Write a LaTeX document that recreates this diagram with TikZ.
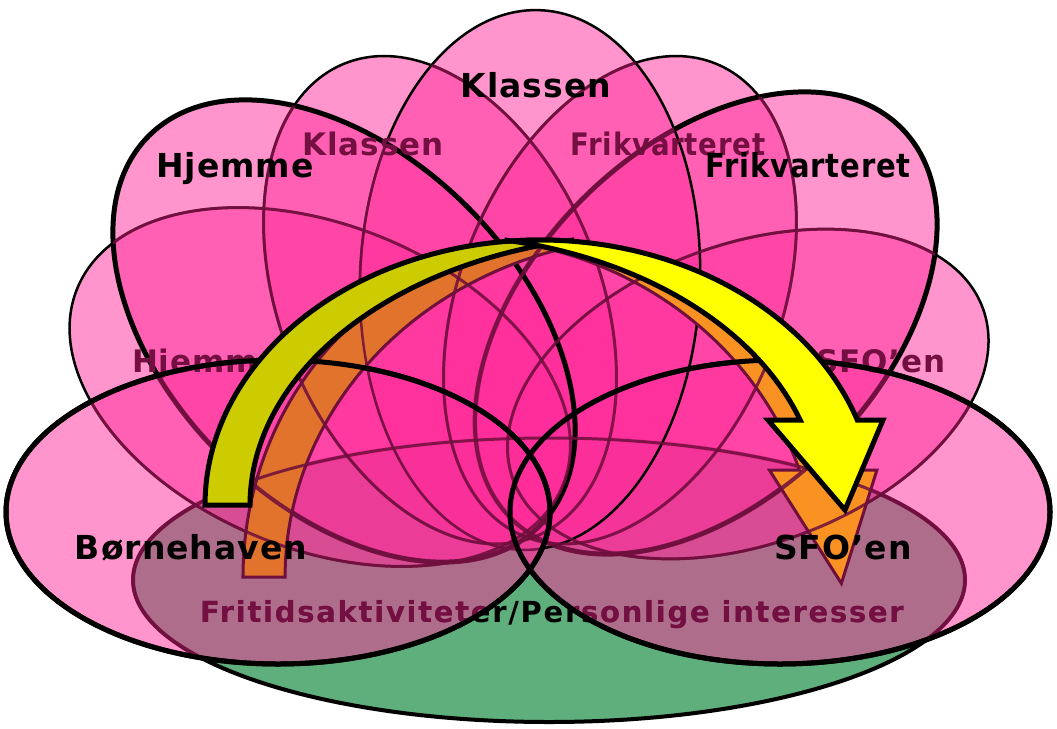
\documentclass[tikz,border=0pt]{standalone}
\usepackage{fontspec}
\setmainfont{DejaVu Sans}
\newfontfamily\lblfont[LetterSpace=3]{DejaVu Sans}
\newfontfamily\widefont[LetterSpace=6]{DejaVu Sans}
\definecolor{pk}{RGB}{255,45,155}
\definecolor{gr}{RGB}{95,175,125}
\definecolor{oliveY}{RGB}{204,204,0}
\definecolor{brightY}{RGB}{255,255,0}
\definecolor{orA}{RGB}{225,115,45}
\definecolor{orB}{RGB}{250,145,35}
\definecolor{maroonL}{RGB}{110,15,60}
\definecolor{backtxt}{RGB}{115,15,65}
\tikzset{
  backpetal/.style={fill=pk, fill opacity=0.5, draw=black, line width=2.5pt},
  frontpetal/.style={fill=pk, fill opacity=0.5, draw=black, line width=5pt},
  greenpetal/.style={fill=gr, draw=black, line width=4pt},
  backline/.style={draw=maroonL, draw opacity=0.85, line width=3pt},
  frontline/.style={draw=maroonL, draw opacity=0.85, line width=4pt},
  frontlbl/.style={anchor=base, inner sep=0pt, font=\lblfont\bfseries\fontsize{33}{36}\selectfont},
  backlbl/.style={anchor=base, inner sep=0pt, text=backtxt, font=\lblfont\bfseries\fontsize{31}{34}\selectfont},
  widelbl/.style={anchor=base, inner sep=0pt, font=\widefont\bfseries\fontsize{29}{32}\selectfont},
  yelback/.style={fill=oliveY, draw=black, line width=5pt, line join=miter},
  yelfront/.style={fill=brightY, draw=black, line width=5pt, line join=miter},
  orback/.style={fill=orA, draw=maroonL, line width=3pt, line join=miter},
  orfront/.style={fill=orB, draw=maroonL, line width=3pt, line join=miter}
}
% petal geometries
\newcommand\petHjemB[1]{\path[#1, shift={(320,387)}, rotate=-22] (0,0) ellipse [x radius=262pt, y radius=162pt];}
\newcommand\petKlasB[1]{\path[#1, shift={(440,300)}, rotate=-68] (0,0) ellipse [x radius=255pt, y radius=160pt];}
\newcommand\petFrikB[1]{\path[#1, shift={(620,300)}, rotate=68] (0,0) ellipse [x radius=255pt, y radius=160pt];}
\newcommand\petSfoB[1]{\path[#1, shift={(748,394)}, rotate=20] (0,0) ellipse [x radius=250pt, y radius=150pt];}
\newcommand\petFrikF[1]{\path[#1, shift={(706,323)}, rotate=45] (0,0) ellipse [x radius=276pt, y radius=175pt];}
\newcommand\petSfoF[1]{\path[#1] (780,512) ellipse [x radius=270pt, y radius=152pt];}
\newcommand\petKlasF[1]{\path[#1, shift={(530,280)}, rotate=-2] (0,0) ellipse [x radius=170pt, y radius=270pt];}
\newcommand\petHjemF[1]{\path[#1, shift={(344,331)}, rotate=-45] (0,0) ellipse [x radius=276pt, y radius=175pt];}
\newcommand\petBornF[1]{\path[#1] (278,512) ellipse [x radius=272pt, y radius=152pt];}
% arrow parts
\newcommand\backband[1]{\path[#1] plot[domain=180:84.86,samples=70] ({540+335*cos(\x)},{505-265*sin(\x)}) -- plot[domain=101.5:180,samples=70] ({650+400*cos(\x)},{505-270*sin(\x)}) -- cycle;}
\newcommand\frontband[1]{\path[#1] plot[domain=95.65:18.71,samples=70] ({540+335*cos(\x)},{505-265*sin(\x)}) -- (883,420) -- (845,510) -- (768,420) -- plot[domain=18.35:78.6,samples=70] ({430+390*cos(\x)},{505-270*sin(\x)}) -- cycle;}
\begin{document}
\begin{tikzpicture}[x=1pt,y=-1pt]
\useasboundingbox[fill=white] (0,0) rectangle (1057,728);

% green bottom ellipse and its label
\path[greenpetal] (549,580) ellipse [x radius=416pt, y radius=142pt];
\node[widelbl] (fri) at (552,622) {Fritidsaktiviteter/Personlige interesser};

% back petals
\petHjemB{backpetal}
\petKlasB{backpetal}
\petFrikB{backpetal}
\petSfoB{backpetal}

% front petals
\petFrikF{frontpetal}
\petSfoF{frontpetal}
\petKlasF{frontpetal, line width=2.5pt}
\petHjemF{frontpetal}
\petBornF{frontpetal}

% orange arrow (back copy)
\begin{scope}[shift={(51.3,-58.7)}, xscale=0.935, yscale=1.259]
\backband{orback}
\frontband{orfront}
\end{scope}

% dimmed part of the bottom label (under the pink fills)
\begin{scope}
\clip (780,512) ellipse [x radius=270pt, y radius=152pt]
      (278,512) ellipse [x radius=272pt, y radius=152pt];
\node[widelbl, text=backtxt] (fridim) at (552,622) {Fritidsaktiviteter/Personlige interesser};
\end{scope}

% dimmed labels of the back copy
\node[backlbl] (bhjem) at (206,372) {Hjemme};
\node[backlbl] (bklas) at (373,155) {Klassen};
\node[backlbl] (bfrik) at (668,155) {\scalebox{0.89}[1]{Frikvarteret}};
\node[backlbl] (bsfo) at (881,372) {SFO’en};

% outlines seen through the front fills (clipped to the union of the front petals)
\begin{scope}
\clip (706,323) ellipse [x radius=276pt, y radius=175pt, rotate=45]
      (780,512) ellipse [x radius=270pt, y radius=152pt]
      (530,280) ellipse [x radius=170pt, y radius=270pt, rotate=-2]
      (344,331) ellipse [x radius=276pt, y radius=175pt, rotate=-45]
      (278,512) ellipse [x radius=272pt, y radius=152pt];
\petHjemB{backline}
\petKlasB{backline}
\petFrikB{backline}
\petSfoB{backline}
\path[backline] (549,580) ellipse [x radius=416pt, y radius=142pt];
\end{scope}
\begin{scope}
\clip (780,512) ellipse [x radius=270pt, y radius=152pt]
      (530,280) ellipse [x radius=170pt, y radius=270pt, rotate=-2];
\petFrikF{frontline}
\end{scope}
\begin{scope}
\clip (278,512) ellipse [x radius=272pt, y radius=152pt];
\petHjemF{frontline}
\end{scope}
\begin{scope}
\clip (344,331) ellipse [x radius=276pt, y radius=175pt, rotate=-45];
\petKlasF{frontline, line width=2.5pt}
\end{scope}
\petBornF{draw=black, line width=5pt}
\petSfoF{draw=black, line width=5pt}

% front labels
\node[frontlbl] (fhjem) at (235,177) {Hjemme};
\node[frontlbl] (fklas) at (536,97) {Klassen};
\node[frontlbl] (ffrik) at (808,177) {\scalebox{0.88}[1]{Frikvarteret}};
\node[frontlbl] (fborn) at (191,559) {Børnehaven};
\node[frontlbl] (fsfo) at (843,559) {SFO’en};

% yellow arrow
\backband{yelback}
\frontband{yelfront}
\end{tikzpicture}
\end{document}
